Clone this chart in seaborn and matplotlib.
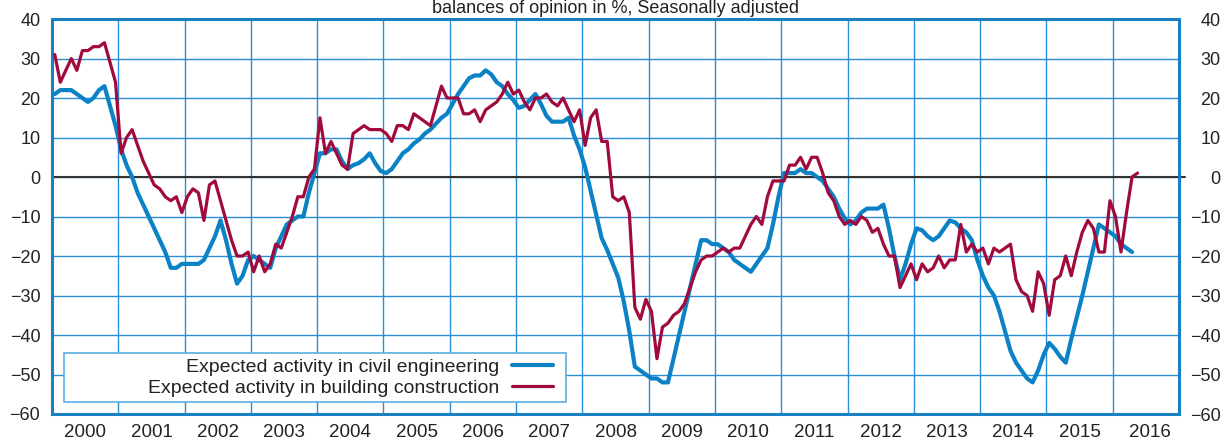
'''
Expected activity in public works vs building construction
'''
import numpy as np
import pandas as pd
import matplotlib
matplotlib.use('Agg')
import matplotlib.pyplot as plt
from matplotlib.patches import Rectangle
import seaborn as sns

BLUE = '#0a82c5'
RED = '#a10a3c'
GRID = '#2b8dd3'
FRAME = '#1a80c4'

START_YEAR = 2000
yearLabels = [str(y) for y in range(2000, 2017)]
yTicks = list(range(-60, 41, 10))

# monthly balances of opinion, Jan 2000 onwards
civil = [
    21, 22, 22, 22, 21, 20, 19, 20, 22, 23, 18, 13,                   # 2000
    7, 3, 0, -4, -7, -10, -13, -16, -19, -23, -23, -22,               # 2001
    -22, -22, -22, -21, -18, -15, -11, -16, -22, -27, -25, -21,       # 2002
    -20, -21, -22, -23, -18, -15, -12, -11, -10, -10, -4, 1,          # 2003
    6, 6, 7, 7, 4, 2, 3, 3.5, 4.5, 6, 3.5, 1.5,                       # 2004
    1, 2, 4, 6, 7, 8.5, 9.5, 11, 12, 13.5, 15, 16,                    # 2005
    18.5, 21, 23, 25, 25.7, 25.7, 27, 26, 24, 23, 21, 19.5,           # 2006
    17.5, 18, 19.5, 21, 18.5, 15.5, 14, 14, 14, 15, 10.5, 7,          # 2007
    2.5, -3.5, -9.5, -15.5, -18.5, -22, -25.5, -31.5, -39, -48, -49, -50,  # 2008
    -51, -51, -52, -52, -46, -40, -34, -28, -22, -16, -16, -17,       # 2009
    -17, -18, -19, -21, -22, -23, -24, -22, -20, -18, -12, -5,        # 2010
    1, 1, 1, 2, 1, 1, 0, -1, -3, -5, -8, -10.5,                       # 2011
    -12, -11, -9, -8, -8, -8, -7, -13, -20, -26, -22, -17,            # 2012
    -13, -13.5, -15, -16, -15, -13, -11, -11.5, -13, -14, -16, -21,   # 2013
    -25, -28, -30, -34, -39, -44, -47, -49, -51, -52, -49, -45,       # 2014
    -42, -43.5, -45.5, -47, -41, -35.5, -30, -24, -18, -12, -13, -14, # 2015
    -15, -17, -18, -19,                                               # 2016
]

building = [
    31, 24, 27, 30, 27, 32, 32, 33, 33, 34, 29, 24,                   # 2000
    6, 10, 12, 8, 4, 1, -2, -3, -5, -6, -5, -9,                       # 2001
    -5, -3, -4, -11, -2, -1, -6, -11, -16, -20, -20, -19,             # 2002
    -24, -20, -24, -22, -17, -18, -14, -10, -5, -5, 0, 2,             # 2003
    15, 6, 9, 6, 3, 2, 11, 12, 13, 12, 12, 12,                        # 2004
    11, 9, 13, 13, 12, 16, 15, 14, 13, 18, 23, 20,                    # 2005
    20, 20, 16, 16, 17, 14, 17, 18, 19, 21, 24, 21,                   # 2006
    22, 19, 17, 20, 20, 21, 19, 18, 20, 17, 14, 17,                   # 2007
    8, 15, 17, 9, 9, -5, -6, -5, -9, -33, -36, -31,                   # 2008
    -34, -46, -38, -37, -35, -34, -32, -28, -24, -21, -20, -20,       # 2009
    -19, -18, -19, -18, -18, -15, -12, -10, -12, -5, -1, -1,          # 2010
    -1, 3, 3, 5, 2, 5, 5, 1, -4, -6, -10, -12,                        # 2011
    -11, -12, -10, -11, -14, -13, -17, -20, -20, -28, -25, -22,       # 2012
    -26, -22, -24, -23, -20, -23, -21, -21, -12, -19, -17, -19,       # 2013
    -18, -22, -18, -19, -18, -17, -26, -29, -30, -34, -24, -27,       # 2014
    -35, -26, -25, -20, -25, -19, -14, -11, -13, -19, -19, -6,        # 2015
    -10, -19, -9, 0, 1,                                               # 2016
]

def monthlyFrame(values):
    df = pd.DataFrame({'value': values})
    df['t'] = START_YEAR + (df.index + 0.5) / 12
    return df

dfCivil = monthlyFrame(civil)
dfBuilding = monthlyFrame(building)
yTickLabels = [str(v).replace('-', '\u2212') for v in yTicks]

sns.set_style('white')
plt.rcParams['font.family'] = ['Liberation Sans', 'DejaVu Sans']

W, H = 1230, 441
fig = plt.figure(figsize=(W / 100, H / 100), dpi=100)
ax = fig.add_axes([52 / W, 1 - 414 / H, 1127 / W, 395 / H])

sns.lineplot(data=dfCivil, x='t', y='value', color=BLUE, lw=3.0, ax=ax,
             label='Expected activity in civil engineering', legend=False, zorder=3)
sns.lineplot(data=dfBuilding, x='t', y='value', color=RED, lw=2.3, ax=ax,
             label='Expected activity in building construction', legend=False, zorder=3)
ax.axhline(0, xmin=0, xmax=1.005, color='#333333', lw=1.5, zorder=2.5, clip_on=False)

ax.set_xlim(2000, 2017)
ax.set_ylim(-60, 40)
ax.set_xticks(range(2000, 2018))
ax.set_xticklabels([])
labelPos = [int(y) + 0.5 for y in yearLabels]
labelPos[-1] += 0.06
ax.set_xticks(labelPos, minor=True)
ax.set_xticklabels(yearLabels, minor=True, fontsize=13.5, color='#222222')
ax.set_yticks(yTicks)
ax.set_yticklabels(yTickLabels, fontsize=13, color='#222222')
ax.tick_params(axis='both', which='both', length=0)
ax.tick_params(axis='x', which='minor', pad=7)
ax.tick_params(axis='y', pad=8.4)
ax.grid(True, which='major', color=GRID, lw=1.0)
ax.set_axisbelow(True)
ax.set_xlabel('')
ax.set_ylabel('')
for s in ax.spines.values():
    s.set_color(FRAME)
    s.set_linewidth(2.2)

# right hand labels
ax2 = ax.twinx()
ax2.set_ylim(-60, 40)
ax2.set_yticks(yTicks)
ax2.set_yticklabels(yTickLabels, fontsize=13, color='#222222')
ax2.tick_params(axis='y', length=0, pad=30)
for lbl in ax2.get_yticklabels():
    lbl.set_horizontalalignment('right')
for s in ax2.spines.values():
    s.set_visible(False)
ax2.grid(False)

ax.set_title('balances of opinion in %, Seasonally adjusted', fontsize=13,
             pad=4.1, color='#222222')

# legend box
x0, x1 = (64 - 52) / 1127, (566 - 52) / 1127
y0, y1 = (414 - 402) / 395, (414 - 353) / 395
ax.add_patch(Rectangle((x0, y0), x1 - x0, y1 - y0, transform=ax.transAxes,
                       facecolor='white', edgecolor='#5aaee2', lw=1.2, zorder=4))
handles, labels = ax.get_legend_handles_labels()
leg = ax.legend(handles, labels, loc='center right',
                bbox_to_anchor=((553 - 52) / 1127, (414 - 377.5) / 395),
                frameon=False, markerfirst=False, fontsize=14,
                handlelength=2.1, handletextpad=0.65, borderpad=0,
                borderaxespad=0, labelspacing=0.15)
leg.set_zorder(5)
for t in leg.get_texts():
    t.set_color('#222222')

fig.savefig('out.png', dpi=100)
